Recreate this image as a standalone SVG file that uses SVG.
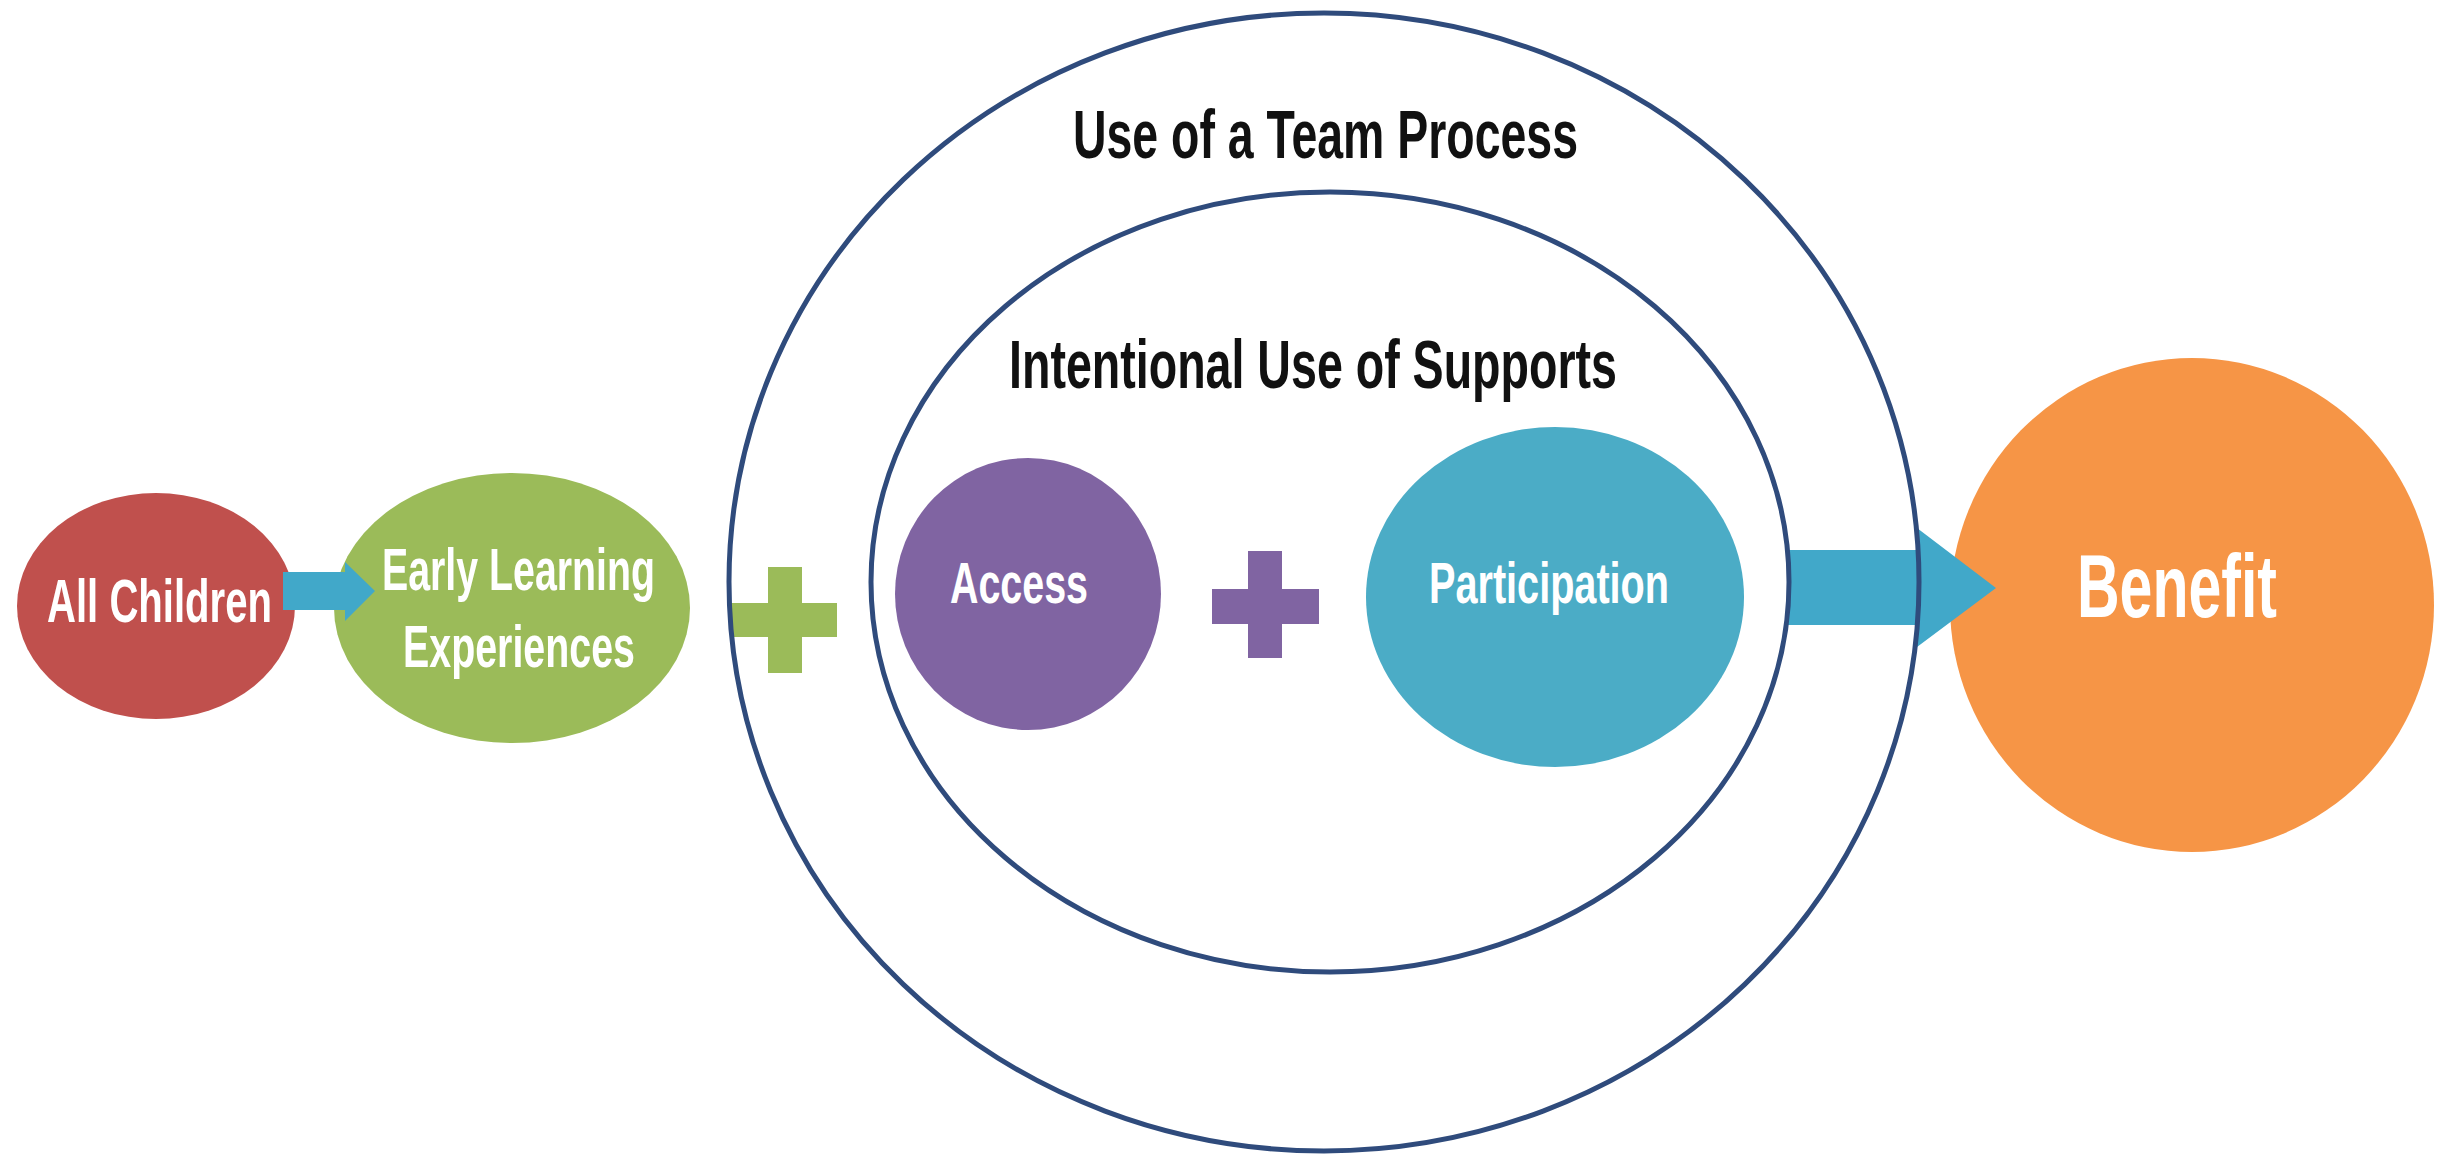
<svg xmlns="http://www.w3.org/2000/svg" width="2438" height="1155" viewBox="0 0 2438 1155">
<style>
  .lbl { font-family: "Liberation Sans", Arial, sans-serif; font-weight: bold; text-anchor: middle; }
  .w { fill: #ffffff; }
  .k { fill: #111111; }
  .ring { fill: none; stroke: #2f4b7c; stroke-width: 5; }
  .arrow { fill: #41a8c9; }
</style>
<rect x="0" y="0" width="2438" height="1155" fill="#ffffff"/>

<g id="node-all-children">
  <ellipse cx="156" cy="606" rx="139" ry="113" fill="#c0504d"/>
  <text class="lbl w" x="159.5" y="622" font-size="62" textLength="225" lengthAdjust="spacingAndGlyphs">All Children</text>
</g>

<g id="node-early-learning">
  <ellipse cx="512" cy="608" rx="178" ry="135" fill="#9bbb59"/>
  <text class="lbl w" x="518.5" y="590" font-size="59" textLength="273" lengthAdjust="spacingAndGlyphs">Early Learning</text>
  <text class="lbl w" x="519" y="667" font-size="59" textLength="232" lengthAdjust="spacingAndGlyphs">Experiences</text>
</g>

<g id="plus-green">
  <rect x="768" y="567" width="34" height="106" fill="#9bbb59"/>
  <rect x="730" y="603" width="107" height="34" fill="#9bbb59"/>
</g>

<g id="node-benefit">
  <ellipse cx="2192" cy="605" rx="242" ry="247" fill="#f69546"/>
  <text class="lbl w" x="2177" y="617" font-size="89" textLength="200" lengthAdjust="spacingAndGlyphs">Benefit</text>
</g>

<g id="connectors">
  <polygon class="arrow" points="283,572 345,572 345,562 375,591 345,621 345,610 283,610"/>
  <polygon class="arrow" points="1788,550 1917,550 1917,528 1996,588 1917,647 1917,625 1788,625"/>
</g>

<g id="node-team-process">
  <ellipse class="ring" cx="1324" cy="582" rx="595" ry="569"/>
  <text class="lbl k" x="1325.5" y="158" font-size="68" textLength="505" lengthAdjust="spacingAndGlyphs">Use of a Team Process</text>
</g>

<g id="node-intentional-supports">
  <ellipse class="ring" cx="1330" cy="582" rx="459" ry="390"/>
  <text class="lbl k" x="1313" y="388" font-size="68" textLength="608" lengthAdjust="spacingAndGlyphs">Intentional Use of Supports</text>
</g>

<g id="node-access">
  <ellipse cx="1028" cy="594" rx="133" ry="136" fill="#8064a2"/>
  <text class="lbl w" x="1019" y="603" font-size="58" textLength="138" lengthAdjust="spacingAndGlyphs">Access</text>
</g>

<g id="plus-purple">
  <rect x="1248" y="551" width="34" height="107" fill="#8064a2"/>
  <rect x="1212" y="589" width="107" height="35" fill="#8064a2"/>
</g>

<g id="node-participation">
  <ellipse cx="1555" cy="597" rx="189" ry="170" fill="#4bacc6"/>
  <text class="lbl w" x="1549" y="603" font-size="58" textLength="240" lengthAdjust="spacingAndGlyphs">Participation</text>
</g>
</svg>
